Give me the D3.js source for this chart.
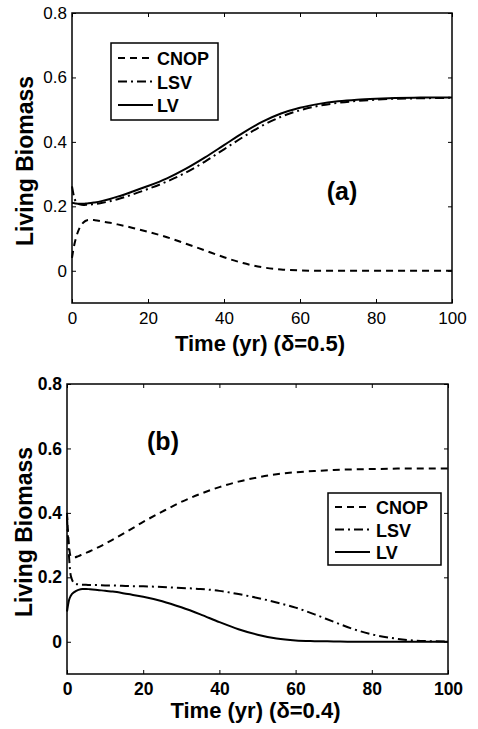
<!DOCTYPE html>
<meta charset="utf-8">
<style>
body { margin: 0; background: #fff; font-family: Arial, "Liberation Sans", sans-serif; }
.axis path { display: none; }
.axis line { stroke: #000; stroke-width: 1; }
.axis text { fill: #000; font-size: 17px; font-family: Arial, "Liberation Sans", sans-serif; }
.bold .axis text { font-weight: bold; font-size: 17.5px; }
.series { fill: none; stroke: #000; stroke-width: 2; }
</style>
<body>
<div id="chart"></div>
<script src="https://d3js.org/d3.v7.min.js"></script>
<script>

// time points (yr), shared by all series
var times = [0, 0.5, 1, 2, 3, 4, 5, 6, 8, 10, 12, 16, 20, 25, 30, 35, 40, 45, 50, 55, 60, 65, 70, 75, 80, 85, 90, 95, 100];

// panel (a), delta = 0.5
var aCNOP = [0.04, 0.075, 0.1, 0.133, 0.15, 0.157, 0.158, 0.157, 0.153, 0.149, 0.144, 0.133, 0.121, 0.104, 0.084, 0.063, 0.042, 0.024, 0.011, 0.004, 0.001, 0, 0, 0, 0, 0, 0, 0, 0];
var aLSV  = [0.262, 0.232, 0.215, 0.206, 0.204, 0.205, 0.206, 0.207, 0.211, 0.216, 0.222, 0.237, 0.254, 0.277, 0.305, 0.339, 0.377, 0.415, 0.45, 0.478, 0.498, 0.512, 0.521, 0.527, 0.531, 0.534, 0.535, 0.536, 0.537];
var aLV   = [0.211, 0.21, 0.209, 0.208, 0.208, 0.209, 0.21, 0.212, 0.217, 0.223, 0.23, 0.246, 0.263, 0.287, 0.317, 0.352, 0.39, 0.428, 0.462, 0.488, 0.506, 0.518, 0.526, 0.531, 0.534, 0.536, 0.537, 0.538, 0.538];

// panel (b), delta = 0.4
var bCNOP = [0.40, 0.30, 0.265, 0.262, 0.266, 0.271, 0.276, 0.281, 0.292, 0.304, 0.317, 0.344, 0.372, 0.404, 0.434, 0.459, 0.48, 0.497, 0.51, 0.52, 0.526, 0.53, 0.533, 0.535, 0.536, 0.537, 0.538, 0.538, 0.538];
var bLSV  = [0.39, 0.27, 0.205, 0.181, 0.178, 0.177, 0.177, 0.176, 0.176, 0.175, 0.175, 0.173, 0.172, 0.17, 0.167, 0.164, 0.158, 0.148, 0.136, 0.122, 0.106, 0.085, 0.062, 0.04, 0.023, 0.012, 0.005, 0.002, 0.001];
var bLV   = [0.094, 0.128, 0.143, 0.155, 0.161, 0.164, 0.164, 0.163, 0.161, 0.158, 0.156, 0.148, 0.14, 0.126, 0.107, 0.085, 0.061, 0.039, 0.022, 0.01, 0.004, 0.002, 0.001, 0, 0, 0, 0, 0, 0];

var seriesNames = ["CNOP", "LSV", "LV"];
var xTicks = [0, 20, 40, 60, 80, 100];
var yTicks = [0, 0.2, 0.4, 0.6, 0.8];

var dashes = { CNOP: "7,5", LSV: "9,4,2,4", LV: null };

var svg = d3.select("#chart").append("svg")
    .attr("width", 478)
    .attr("height", 729);

function drawPanel(p) {
  var x = d3.scaleLinear().domain([0, 100]).range([p.left, p.right]);
  var y = d3.scaleLinear().domain([-0.1, 0.8]).range([p.bottom, p.top]);

  var g = svg.append("g").attr("class", p.bold ? "bold" : "");

  // ticks on all four sides, pointing inward
  g.append("g").attr("class", "axis")
    .attr("transform", "translate(0," + p.bottom + ")")
    .call(d3.axisBottom(x).tickValues(xTicks).tickSize(-4).tickPadding(9).tickFormat(d3.format("d")));
  g.append("g").attr("class", "axis")
    .attr("transform", "translate(0," + p.top + ")")
    .call(d3.axisTop(x).tickValues(xTicks).tickSize(-4).tickFormat(""));
  g.append("g").attr("class", "axis")
    .attr("transform", "translate(" + p.left + ",0)")
    .call(d3.axisLeft(y).tickValues(yTicks).tickSize(-4).tickPadding(5).tickFormat(function(d) { return d === 0 ? "0" : d3.format(".1f")(d); }));
  g.append("g").attr("class", "axis")
    .attr("transform", "translate(" + p.right + ",0)")
    .call(d3.axisRight(y).tickValues(yTicks).tickSize(-4).tickFormat(""));

  g.append("rect")
    .attr("x", p.left).attr("y", p.top)
    .attr("width", p.right - p.left).attr("height", p.bottom - p.top)
    .attr("fill", "none").attr("stroke", "#000").attr("stroke-width", 1.5);

  var line = d3.line()
    .x(function(d) { return x(d[0]); })
    .y(function(d) { return y(d[1]); })
    .curve(d3.curveMonotoneX);

  seriesNames.forEach(function(name, i) {
    var vals = p.series[i];
    g.append("path")
      .attr("class", "series")
      .attr("d", line(times.map(function(t, j) { return [t, vals[j]]; })))
      .attr("stroke-dasharray", dashes[name]);
  });

  // axis titles
  g.append("text")
    .attr("transform", "translate(" + p.ylabX + "," + ((p.top + p.bottom) / 2 + 3) + ") rotate(-90)")
    .attr("text-anchor", "middle")
    .attr("font-size", 23).attr("font-weight", "bold")
    .text("Living Biomass");
  g.append("text")
    .attr("x", (p.left + p.right) / 2 - 2).attr("y", p.xlabY)
    .attr("text-anchor", "middle")
    .attr("font-size", 22).attr("font-weight", "bold")
    .text(p.xlabel);

  // panel tag
  g.append("text")
    .attr("x", p.tag[0]).attr("y", p.tag[1])
    .attr("text-anchor", "middle")
    .attr("font-size", 25).attr("font-weight", "bold")
    .text(p.tagText);

  // legend
  var L = p.legend;
  g.append("rect")
    .attr("x", L.x).attr("y", L.y).attr("width", L.w).attr("height", L.h)
    .attr("fill", "#fff").attr("stroke", "#000").attr("stroke-width", 1.5);
  seriesNames.forEach(function(name, i) {
    var ly = L.y + L.first + i * L.step;
    g.append("line")
      .attr("x1", L.x + 7).attr("x2", L.x + 42)
      .attr("y1", ly).attr("y2", ly)
      .attr("stroke", "#000").attr("stroke-width", 2)
      .attr("stroke-dasharray", dashes[name]);
    g.append("text")
      .attr("x", L.x + L.tx).attr("y", ly + 7)
      .attr("font-size", 18).attr("font-weight", "bold")
      .text(name);
  });
}

drawPanel({
  left: 72, right: 452, top: 13, bottom: 303,
  bold: false,
  series: [aCNOP, aLSV, aLV],
  ylabX: 33, xlabY: 351,
  xlabel: "Time (yr) (\u03b4=0.5)",
  tag: [342, 200], tagText: "(a)",
  legend: { x: 111, y: 43, w: 107, h: 77, first: 15, step: 23.5, tx: 46 }
});

drawPanel({
  left: 67, right: 448, top: 384, bottom: 674,
  bold: true,
  series: [bCNOP, bLSV, bLV],
  ylabX: 32, xlabY: 718,
  xlabel: "Time (yr) (\u03b4=0.4)",
  tag: [163, 450], tagText: "(b)",
  legend: { x: 328, y: 493, w: 113, h: 72, first: 14, step: 22.5, tx: 48 }
});

</script>
</body>
